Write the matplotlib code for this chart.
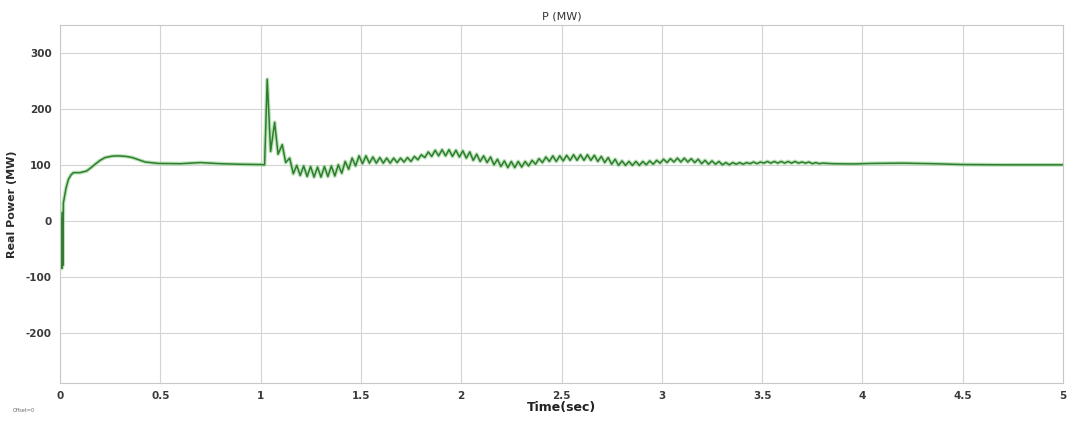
import matplotlib.pyplot as plt
import numpy as np

plt.rcParams['font.family'] = 'DejaVu Sans'
plt.rcParams['axes.unicode_minus'] = False

# start-up and fault transient (time in s, power in MW)
t_start = [0.0, 0.002, 0.004, 0.006, 0.008, 0.010, 0.012, 0.014, 0.017, 0.03, 0.042,
           0.055, 0.067, 0.1, 0.133, 0.155, 0.175, 0.2, 0.225, 0.26, 0.29, 0.33, 0.36,
           0.425, 0.49, 0.6, 0.7, 0.8, 0.9, 1.0, 1.02, 1.033, 1.05, 1.07, 1.087, 1.108,
           1.125, 1.145]
p_start = [0, -85, 0, -85, 5, -85, 15, -80, 32, 58, 74,
           82, 86, 86, 89, 95, 101, 108, 113, 115.5, 116, 115, 113,
           105, 102.5, 102, 104, 102, 101, 100.5, 100, 253, 124, 176, 119, 136,
           104, 112]

# post-fault power swing: trough / peak pairs read per oscillation cycle
cycle_t0 = 1.163
cycle_len = 0.0345
troughs = [84, 81, 79, 78, 78, 79, 80, 85, 92, 98,
           102, 103, 103, 103, 103, 104, 105, 106, 109, 113,
           115, 116, 116, 115, 114, 112, 108, 106, 104, 100,
           97, 95, 95, 96, 98, 101, 104, 106, 106, 107,
           108, 108, 108, 108, 106, 104, 101, 99, 99, 99,
           99, 100, 101, 103, 104, 105, 105, 105, 104, 102,
           101, 101, 100, 100, 101, 101, 102, 102, 103, 103,
           103, 103, 103, 103, 103, 102, 102]
peaks = [99, 98, 97, 96, 97, 98, 100, 106, 112, 116,
         116, 114, 113, 112, 112, 112, 113, 115, 118, 123,
         126, 127, 127, 126, 125, 123, 119, 116, 114, 110,
         107, 106, 106, 106, 108, 111, 114, 116, 116, 117,
         118, 118, 118, 117, 115, 113, 110, 107, 106, 106,
         106, 107, 108, 110, 111, 112, 112, 111, 110, 108,
         107, 106, 104, 104, 104, 104, 105, 105, 106, 106,
         106, 106, 106, 105, 105, 104, 103]

# settling tail
t_tail = [3.85, 3.95, 4.05, 4.2, 4.35, 4.5, 4.7, 5.0]
p_tail = [102, 101.5, 102.5, 103, 102, 100.5, 100, 100]

k = np.arange(len(troughs))
t_osc = np.ravel(np.column_stack([cycle_t0 + k * cycle_len,
                                  cycle_t0 + k * cycle_len + cycle_len / 2]))
p_osc = np.ravel(np.column_stack([troughs, peaks]))

t = np.concatenate([t_start, t_osc, t_tail])
p = np.concatenate([p_start, p_osc, p_tail])

fig = plt.figure(figsize=(10.73, 4.23), dpi=100)
ax = fig.add_axes([0.0559, 0.0946, 0.9348, 0.8464])
# soft halo + darker core, like the scope trace
ax.plot(t, p, color='#9fd89a', linewidth=2.8, alpha=0.7, solid_joinstyle='round')
ax.plot(t, p, color='#2f7d2f', linewidth=1.1, solid_joinstyle='round')

ax.set_xlim(0, 5)
ax.set_ylim(-290, 350)
ax.set_xticks(np.arange(0, 5.01, 0.5))
ax.set_xticklabels(['0', '0.5', '1', '1.5', '2', '2.5', '3', '3.5', '4', '4.5', '5'])
ax.set_yticks([-200, -100, 0, 100, 200, 300])
ax.grid(True, color='#d4d4d4', linewidth=0.8)
ax.tick_params(length=0, labelsize=7.5, labelcolor='#3a3a3a', pad=6)
for lbl in ax.get_xticklabels() + ax.get_yticklabels():
    lbl.set_fontweight('bold')
for s in ax.spines.values():
    s.set_color('#c8c8c8')

ax.set_title('P (MW)', fontsize=8, color='#333333', pad=4)
ax.set_xlabel('Time(sec)', fontsize=9, fontweight='bold', color='#222222', labelpad=0)
ax.set_ylabel('Real Power (MW)', fontsize=8, fontweight='bold', color='#2a2a2a', labelpad=6)
fig.text(0.012, 0.025, 'Offset=0', fontsize=3.5, color='#666666')

plt.savefig('out.png', dpi=100)
